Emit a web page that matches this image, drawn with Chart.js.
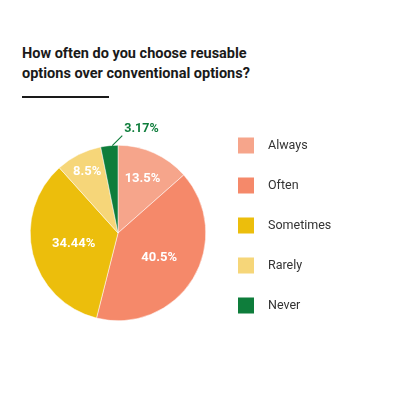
<!DOCTYPE html>
<html>
<head>
<meta charset="utf-8">
<script src="https://cdn.jsdelivr.net/npm/chart.js@4"></script>
<style>
  html, body { margin: 0; padding: 0; background: #fff; }
  body { width: 395px; height: 395px; position: relative; overflow: hidden; font-family: Roboto, sans-serif; }
  #title { position: absolute; left: 22px; top: 44px; font-size: 14.5px; font-weight: bold; line-height: 20px; color: #1a1a1a; }
  #rule { position: absolute; left: 22px; top: 96px; width: 87px; height: 2px; background: #1a1a1a; }
  #wrap { position: absolute; left: 0; top: 0; width: 395px; height: 395px; }
</style>
</head>
<body>
<div id="title">How often do you choose reusable<br>options over conventional options?</div>
<div id="rule"></div>
<div id="wrap"><canvas id="pieChart"></canvas></div>
<script>
// dados do gráfico
const labels = ['Always', 'Often', 'Sometimes', 'Rarely', 'Never'];
const values = [13.5, 40.5, 34.44, 8.5, 3.17];
const valueLabels = ['13.5%', '40.5%', '34.44%', '8.5%', '3.17%'];
const colors = ['#f6a58b', '#f5896a', '#ecbe0c', '#f6d679', '#0e7d3b'];

// distância do rótulo ao centro (fração do raio)
const labelRadius = [0.68, 0.55, 0.52, 0.78, null];

// rótulos das fatias + legenda desenhada à mão
const sliceLabels = {
    id: 'sliceLabels',
    afterDatasetsDraw(chart) {
        const ctx = chart.ctx;
        const arcs = chart.getDatasetMeta(0).data;
        ctx.save();
        ctx.font = 'bold 13px Roboto';
        ctx.textAlign = 'center';
        ctx.textBaseline = 'middle';
        arcs.forEach(function(arc, i) {
            const mid = (arc.startAngle + arc.endAngle) / 2;
            if (labelRadius[i] === null) {
                // fatia pequena: rótulo de fora com linha guia
                const x0 = arc.x + Math.cos(mid) * arc.outerRadius;
                const y0 = arc.y + Math.sin(mid) * arc.outerRadius;
                ctx.strokeStyle = colors[i];
                ctx.lineWidth = 1.2;
                ctx.beginPath();
                ctx.moveTo(x0 + 3, y0);
                ctx.lineTo(x0 + 13, y0 - 10);
                ctx.stroke();
                ctx.fillStyle = colors[i];
                ctx.font = 'bold 12.5px Roboto';
                ctx.textAlign = 'left';
                ctx.fillText(valueLabels[i], x0 + 15, y0 - 17);
                return;
            }
            const r = arc.outerRadius * labelRadius[i];
            ctx.fillStyle = '#ffffff';
            ctx.fillText(valueLabels[i], arc.x + Math.cos(mid) * r, arc.y + Math.sin(mid) * r);
        });

        // legenda
        ctx.font = '12.5px Roboto';
        ctx.textAlign = 'left';
        labels.forEach(function(lab, i) {
            const cy = 145.5 + i * 40;
            ctx.fillStyle = colors[i];
            ctx.fillRect(238, cy - 8, 16, 16);
            ctx.fillStyle = '#333333';
            ctx.fillText(lab, 268, cy + 0.5);
        });
        ctx.restore();
    }
};

const ctx = document.getElementById('pieChart').getContext('2d');
const pieChart = new Chart(ctx, {
    type: 'pie',
    data: {
        labels: labels,
        datasets: [{
            data: values,
            backgroundColor: colors,
            borderColor: '#ffffff',
            borderWidth: 0.5
        }]
    },
    options: {
        responsive: true,
        maintainAspectRatio: false,
        animation: false,
        layout: { padding: { left: 30, right: 189, top: 145, bottom: 74 } },
        plugins: {
            legend: { display: false },
            tooltip: { enabled: false }
        }
    },
    plugins: [sliceLabels]
});
</script>
</body>
</html>
